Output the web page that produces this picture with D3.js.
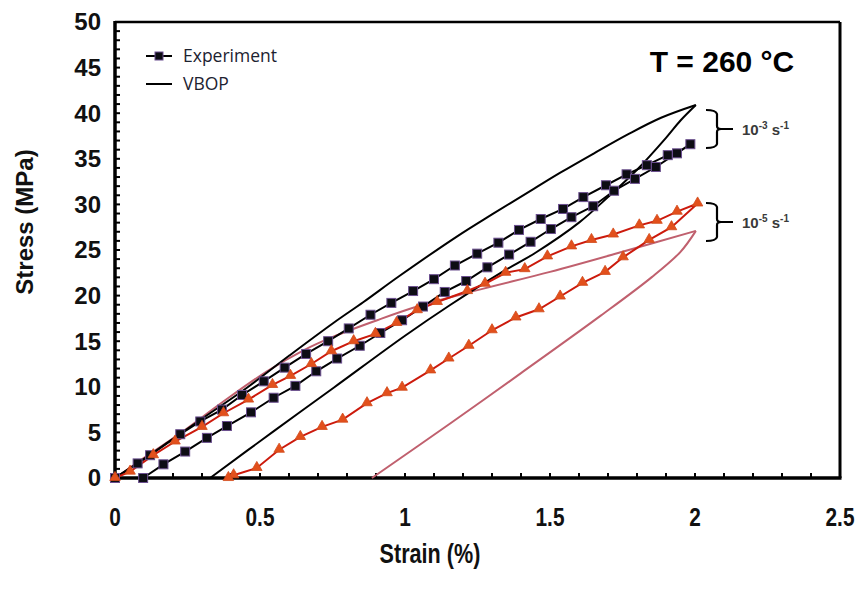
<!DOCTYPE html>
<html><head><meta charset="utf-8">
<script src="https://cdn.jsdelivr.net/npm/d3@7/dist/d3.min.js"></script>
<style>body{margin:0;background:#fff}svg{display:block}</style>
</head><body>
<svg id="c" width="860" height="603"></svg>
<script>
// ---- data ----
const xTicks = [0, 0.5, 1, 1.5, 2, 2.5];
const yTicks = [0, 5, 10, 15, 20, 25, 30, 35, 40, 45, 50];
// Experiment, 10^-3 s^-1 (loading then unloading), [strain %, stress MPa]
const exp3 = [[0,0],[0.078,1.6],[0.121,2.5],[0.225,4.8],[0.294,6.2],[0.369,7.5],[0.438,9.1],[0.513,10.6],[0.585,12.1],[0.659,13.6],[0.735,15.0],[0.806,16.4],[0.881,17.9],[0.953,19.2],[1.028,20.5],[1.100,21.8],[1.172,23.3],[1.249,24.6],[1.322,25.8],[1.393,27.2],[1.468,28.4],[1.545,29.5],[1.615,30.8],[1.693,32.1],[1.764,33.3],[1.834,34.3],[1.906,35.4],[1.938,35.6],[1.984,36.6],
  [1.865,34.1],[1.793,32.8],[1.721,31.5],[1.649,29.8],[1.574,28.6],[1.503,27.3],[1.433,25.9],[1.359,24.5],[1.284,23.1],[1.211,21.6],[1.137,20.4],[1.062,18.8],[0.990,17.3],[0.915,15.9],[0.844,14.5],[0.766,13.1],[0.694,11.7],[0.622,10.1],[0.547,8.8],[0.469,7.2],[0.386,5.7],[0.317,4.4],[0.242,2.9],[0.167,1.5],[0.097,0]];
// VBOP, 10^-3 s^-1 : loading and unloading branches
const vbop3Load = [[0,0],[0.1,2.1],[0.2,4.3],[0.3,6.5],[0.455,9.9],[0.6,13.4],[0.753,17.0],[0.857,19.3],[0.983,22.2],[1.18,26.5],[1.3,28.9],[1.444,31.7],[1.537,33.5],[1.652,35.6],[1.77,37.7],[1.883,39.5],[2.003,40.9]];
const vbop3Unload = [[2.003,40.9],[1.95,39.2],[1.9,37.3],[1.8,33.8],[1.7,30.8],[1.6,28.0],[1.45,24.7],[1.33,22.5],[1.157,19.0],[1.0,15.6],[0.754,9.9],[0.55,5.2],[0.328,0]];
// Experiment, 10^-5 s^-1
const exp5 = [[0,0],[0.052,0.7],[0.132,2.5],[0.207,4.0],[0.3,5.6],[0.374,7.1],[0.46,8.6],[0.543,10.2],[0.605,11.2],[0.677,12.5],[0.746,13.9],[0.823,15.0],[0.898,15.8],[0.971,17.0],[1.042,18.4],[1.111,19.3],[1.215,20.5],[1.276,21.3],[1.347,22.5],[1.413,22.9],[1.491,24.3],[1.574,25.4],[1.643,26.1],[1.718,26.7],[1.808,27.7],[1.869,28.2],[1.938,29.2],[2.009,30.1],
  [1.919,27.5],[1.842,26.1],[1.752,24.2],[1.69,22.6],[1.612,21.4],[1.535,19.9],[1.462,18.5],[1.382,17.6],[1.30,16.2],[1.22,14.5],[1.151,13.1],[1.088,11.8],[0.99,9.9],[0.938,9.3],[0.869,8.2],[0.785,6.4],[0.714,5.6],[0.639,4.5],[0.566,3.1],[0.489,1.1],[0.409,0.3],[0.391,0]];
// VBOP, 10^-5 s^-1
const vbop5Load = [[0,0],[0.1,2.2],[0.225,4.9],[0.37,8.3],[0.524,11.7],[0.65,14.0],[0.753,15.5],[0.904,17.3],[1.042,18.8],[1.25,20.6],[1.5,22.6],[1.75,24.8],[2.003,27.1]];
const vbop5Unload = [[2.003,27.1],[1.95,24.8],[1.85,22.0],[1.675,17.8],[1.4,11.5],[1.157,6.0],[0.886,0]];

const legendItems = ["Experiment", "VBOP"];
const rateLabels = [{base:"10", e1:"-3", s:" s", e2:"-1"}, {base:"10", e1:"-5", s:" s", e2:"-1"}];

// ---- drawing ----
const svg = d3.select("#c");
const x = d3.scaleLinear().domain([0, 2.5]).range([115, 840]);
const y = d3.scaleLinear().domain([0, 50]).range([478, 22]);
const line = d3.line().x(d => x(d[0])).y(d => y(d[1]));
const smooth = d3.line().x(d => x(d[0])).y(d => y(d[1])).curve(d3.curveCatmullRom.alpha(0.5));

// minor ticks
const g = svg.append("g");
g.selectAll(".yt").data(d3.range(1, 50)).join("line")
  .attr("x1", x(0)).attr("x2", x(0) + 5).attr("y1", d => y(d)).attr("y2", d => y(d))
  .attr("stroke", "#000").attr("stroke-width", 2);
g.selectAll(".xt").data(d3.range(1, 25).map(i => i / 10)).join("line")
  .attr("x1", d => x(d)).attr("x2", d => x(d)).attr("y1", y(0)).attr("y2", y(0) - 5)
  .attr("stroke", "#000").attr("stroke-width", 2);

// frame
svg.append("line").attr("x1", x(0)).attr("x2", x(2.5)).attr("y1", y(50)).attr("y2", y(50)).attr("stroke", "#000").attr("stroke-width", 2.5);
svg.append("line").attr("x1", x(2.5)).attr("x2", x(2.5)).attr("y1", y(50)).attr("y2", y(0)).attr("stroke", "#000").attr("stroke-width", 3);
svg.append("line").attr("x1", x(0)).attr("x2", x(0)).attr("y1", y(50) - 1).attr("y2", y(0) + 1.5).attr("stroke", "#000").attr("stroke-width", 3.5);
svg.append("line").attr("x1", x(0) - 1.5).attr("x2", x(2.5) + 1.5).attr("y1", y(0)).attr("y2", y(0)).attr("stroke", "#000").attr("stroke-width", 3.5);

// tick labels
svg.selectAll(".yl").data(yTicks).join("text")
  .attr("x", 101).attr("y", d => y(d)).attr("dy", "0.35em").attr("text-anchor", "end")
  .attr("font-family", "Liberation Sans, Arial, sans-serif").attr("font-weight", "bold").attr("font-size", 24)
  .attr("fill", "#111").text(d => d);
svg.selectAll(".xl").data(xTicks).join("text")
  .attr("transform", d => `translate(${x(d)},517) scale(0.8,1)`).attr("dy", "0.35em").attr("text-anchor", "middle")
  .attr("font-family", "Liberation Sans, Arial, sans-serif").attr("font-weight", "bold").attr("font-size", 26)
  .attr("fill", "#111").text(d => d);

// axis titles
svg.append("text").attr("transform", "translate(430,554) scale(0.8,1)").attr("dy", "0.35em").attr("text-anchor", "middle")
  .attr("font-family", "Liberation Sans, Arial, sans-serif").attr("font-weight", "bold").attr("font-size", 27)
  .attr("fill", "#111").text("Strain (%)");
svg.append("text").attr("transform", "translate(25,222) rotate(-90)").attr("dy", "0.35em").attr("text-anchor", "middle")
  .attr("font-family", "Liberation Sans, Arial, sans-serif").attr("font-weight", "bold").attr("font-size", 24)
  .attr("fill", "#111").text("Stress (MPa)");

// curves
[vbop5Load, vbop5Unload].forEach(d => svg.append("path").datum(d).attr("d", smooth).attr("fill", "none").attr("stroke", "#c0606e").attr("stroke-width", 2));
[vbop3Load, vbop3Unload].forEach(d => svg.append("path").datum(d).attr("d", smooth).attr("fill", "none").attr("stroke", "#000").attr("stroke-width", 2));
svg.append("path").datum(exp3).attr("d", line).attr("fill", "none").attr("stroke", "#000").attr("stroke-width", 2);
svg.append("path").datum(exp5).attr("d", line).attr("fill", "none").attr("stroke", "#cc1a0c").attr("stroke-width", 2);

const sq = 9;
svg.selectAll(".sq").data(exp3).join("rect")
  .attr("x", d => x(d[0]) - sq / 2).attr("y", d => y(d[1]) - sq / 2).attr("width", sq).attr("height", sq)
  .attr("fill", "#0d0d14").attr("stroke", "#6b4f8f").attr("stroke-width", 1);
const tri = d3.symbol().type(d3.symbolTriangle).size(48);
svg.selectAll(".tr").data(exp5).join("path")
  .attr("transform", d => `translate(${x(d[0])},${y(d[1]) - 0.5})`).attr("d", tri)
  .attr("fill", "#e2501c").attr("stroke", "#d24a1a").attr("stroke-width", 0.8);

// legend
const lg = svg.append("g").attr("font-family", "Open Sans, DejaVu Sans, sans-serif").attr("font-size", 17.5).attr("fill", "#1c2230");
lg.append("line").attr("x1", 146).attr("x2", 172).attr("y1", 56).attr("y2", 56).attr("stroke", "#000").attr("stroke-width", 2);
lg.append("rect").attr("x", 155).attr("y", 52).attr("width", 8).attr("height", 8).attr("fill", "#0d0d14").attr("stroke", "#6b4f8f");
lg.append("line").attr("x1", 146).attr("x2", 172).attr("y1", 84).attr("y2", 84).attr("stroke", "#000").attr("stroke-width", 2);
lg.selectAll("text").data(legendItems).join("text").attr("x", 183).attr("y", (d, i) => 56 + 28 * i).attr("dy", "0.35em").text(d => d);

// temperature
svg.append("text").attr("x", 722).attr("y", 61).attr("dy", "0.35em").attr("text-anchor", "middle")
  .attr("font-family", "Liberation Sans, Arial, sans-serif").attr("font-weight", "bold").attr("font-size", 30)
  .attr("fill", "#000").text("T = 260 °C");

// brackets + rate labels
const br = [[110, 148], [203, 241]];
br.forEach((b, i) => {
  const [t, bt] = b, m = (t + bt) / 2, vx = 717;
  svg.append("path").attr("d", `M706,${t} Q716,${t} ${vx},${t + 4} L${vx},${m - 3} Q${vx},${m} ${vx + 4},${m} L733,${m} M${vx + 4},${m} Q${vx},${m} ${vx},${m + 3} L${vx},${bt - 4} Q716,${bt} 706,${bt}`)
    .attr("fill", "none").attr("stroke", "#000").attr("stroke-width", 2.2);
  const r = rateLabels[i];
  const tx = svg.append("text").attr("x", 742).attr("y", m + 6).attr("font-family", "Liberation Sans, Arial, sans-serif")
    .attr("font-size", 15).attr("font-weight", "bold").attr("fill", "#3a3a3a");
  tx.append("tspan").text(r.base);
  tx.append("tspan").attr("font-size", 10).attr("dy", -6).text(r.e1);
  tx.append("tspan").attr("dy", 6).text(r.s);
  tx.append("tspan").attr("font-size", 10).attr("dy", -6).text(r.e2);
});
</script>
</body></html>
